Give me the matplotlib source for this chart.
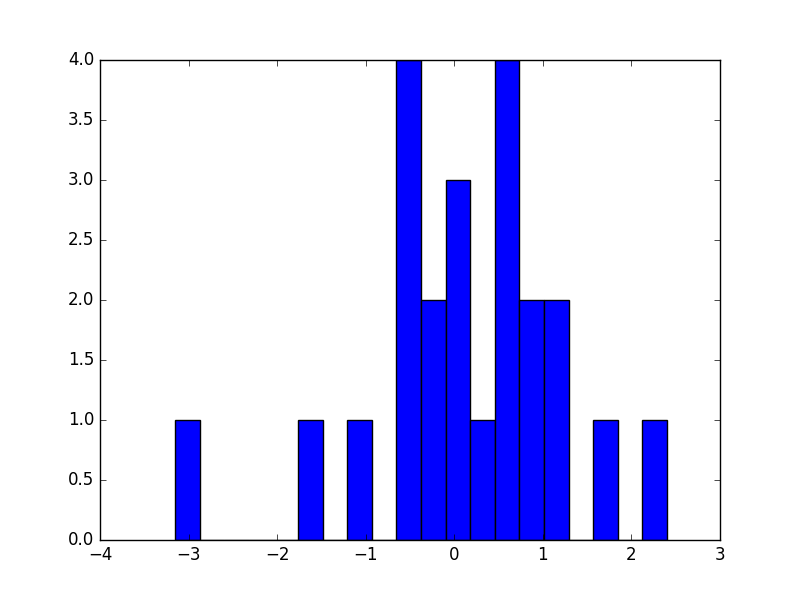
import numpy as np
import matplotlib
matplotlib.use("Agg")
import matplotlib.pyplot as plt

plt.style.use('classic')

bin_lo = -3.153
bin_hi = 2.402
counts = [1, 0, 0, 0, 0, 1, 0, 1, 0, 4, 2, 3, 1, 4, 2, 2, 0, 1, 0, 1]

edges = np.linspace(bin_lo, bin_hi, len(counts) + 1)
centers = (edges[:-1] + edges[1:]) / 2

fig = plt.figure(figsize=(8, 6), dpi=100)
ax = fig.add_subplot(111)
ax.hist(centers, bins=edges, weights=counts, facecolor='blue', edgecolor='black')
ax.set_xlim(-4, 3)
ax.set_ylim(0, 4)
fig.savefig('out.png', dpi=100, facecolor='white')
